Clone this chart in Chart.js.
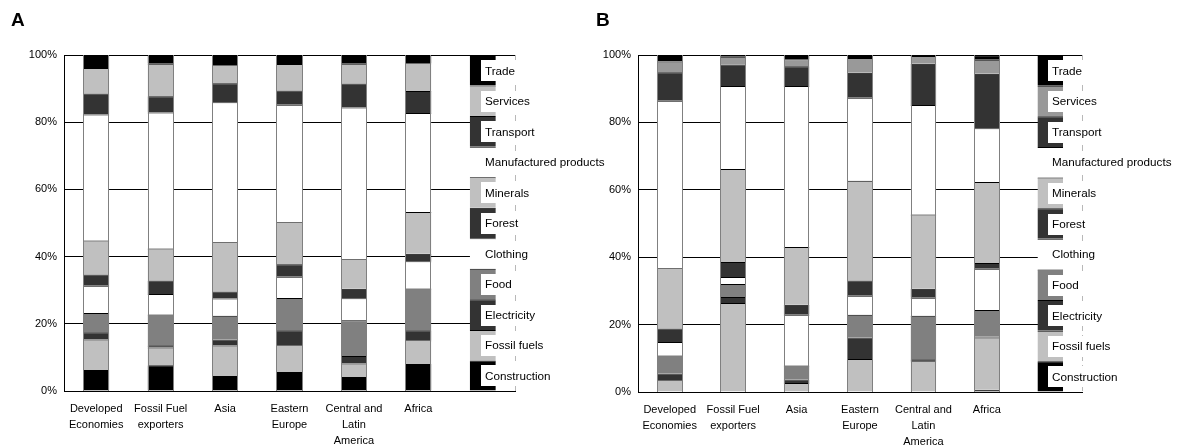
<!DOCTYPE html>
<html><head><meta charset="utf-8">
<script src="https://cdn.jsdelivr.net/npm/chart.js@4.4.0/dist/chart.umd.min.js"></script>
<style>
html,body{margin:0;padding:0;background:#fff;width:1183px;height:447px;overflow:hidden;}
#wrapA{position:absolute;left:0;top:0;width:625px;height:447px;}
#wrapB{position:absolute;left:590px;top:0;width:593px;height:447px;}
.panel{position:absolute;top:9px;font:bold 19px "Liberation Sans",Arial,sans-serif;color:#000;}
</style></head><body>
<div id="wrapA"><canvas id="cA" width="625" height="447"></canvas></div>
<div id="wrapB"><canvas id="cB" width="593" height="447"></canvas></div>
<div class="panel" style="left:11px">A</div>
<div class="panel" style="left:596px">B</div>
<script>
// ---- data ----
const categories = [['Developed','Economies'],['Fossil Fuel','exporters'],['Asia'],['Eastern','Europe'],['Central and','Latin','America'],['Africa'],''];
const sectors = ['Construction','Fossil fuels','Electricity','Food','Clothing','Forest','Minerals','Manufactured products','Transport','Services','Trade'];
const legendShare = [9.09,9.09,9.09,9.09,9.09,9.09,9.09,9.09,9.09,9.09,9.09];
const yTicks = [0,20,40,60,80,100];

// Panel A (regions: Developed, Fossil Fuel exporters, Asia, Eastern Europe, Central & Latin America, Africa)
const aConstruction  = [6.25, 7.7, 4.45, 5.65, 4.15, 8.05];
const aFossilFuels   = [9.1, 5.25, 9.1, 7.95, 4.0, 7.05];
const aElectricity   = [2.1, 0.7, 1.8, 4.45, 2.3, 3.0];
const aFood          = [5.75, 9.1, 7.05, 9.6, 10.6, 12.4];
const aClothing      = [8.1, 6.15, 5.15, 6.35, 6.55, 8.15];
const aForest        = [3.4, 4.0, 2.1, 3.7, 2.8, 2.2];
const aMinerals      = [10.1, 9.5, 14.6, 12.5, 8.8, 12.4];
const aManufactured  = [37.5, 40.5, 41.7, 35.0, 45.2, 29.5];
const aTransport     = [6.25, 4.8, 5.65, 4.25, 7.15, 6.55];
const aServices      = [7.6, 9.7, 5.35, 7.85, 5.85, 8.25];
const aTrade         = [3.85, 2.6, 3.05, 2.7, 2.6, 2.45];

// Panel B
const bConstruction  = [0.2, 0, 0.2, 0.2, 0.2, 0.7];
const bFossilFuels   = [3.3, 26.4, 2.5, 9.6, 8.9, 15.5];
const bElectricity   = [2.0, 1.8, 1.0, 6.35, 0.6, 0.3];
const bFood          = [5.35, 3.85, 4.15, 6.75, 12.9, 7.8];
const bClothing      = [4.0, 2.1, 15.05, 5.65, 5.35, 12.3];
const bForest        = [4.0, 4.45, 3.0, 4.55, 2.7, 1.7];
const bMinerals      = [17.9, 27.6, 17.1, 29.6, 22.0, 24.0];
const bManufactured  = [49.7, 24.6, 47.8, 24.65, 32.55, 16.0];
const bTransport     = [8.4, 6.4, 5.85, 7.4, 12.2, 16.1];
const bServices      = [3.2, 2.3, 2.1, 4.35, 2.3, 4.2];
const bTrade         = [1.95, 0.5, 1.25, 0.9, 0.3, 1.3];

const colorsA = ['#000000','#c0c0c0','#333333','#808080','#ffffff','#333333','#c0c0c0','#ffffff','#333333','#c0c0c0','#000000'];
const colorsB = ['#000000','#c0c0c0','#333333','#808080','#ffffff','#333333','#c0c0c0','#ffffff','#333333','#999999','#000000'];

const seriesA = [aConstruction,aFossilFuels,aElectricity,aFood,aClothing,aForest,aMinerals,aManufactured,aTransport,aServices,aTrade];
const seriesB = [bConstruction,bFossilFuels,bElectricity,bFood,bClothing,bForest,bMinerals,bManufactured,bTransport,bServices,bTrade];

Chart.defaults.font.family = '"Liberation Sans", Arial, sans-serif';
Chart.defaults.font.size = 11;
Chart.defaults.color = '#000';

const REGIONS = 6, LEGEND_IDX = 6;

const decor = {
  id:'decor',
  afterDatasetsDraw(chart){
    const ctx = chart.ctx, area = chart.chartArea, y = chart.scales.y;
    ctx.save();
    // grey outlines of region bars
    const meta0 = chart.getDatasetMeta(0);
    ctx.strokeStyle = '#808080'; ctx.lineWidth = 1;
    const yt = y.getPixelForValue(100), yb = y.getPixelForValue(0);
    for (let j=0;j<REGIONS;j++){
      const el = meta0.data[j];
      const l = Math.round(el.x - el.width/2) + 0.5;
      const r = Math.round(el.x + el.width/2) - 0.5;
      ctx.beginPath();
      ctx.moveTo(l, yt); ctx.lineTo(l, yb);
      ctx.moveTo(r, yt); ctx.lineTo(r, yb);
      ctx.stroke();
    }
    // dashed right edge
    ctx.setLineDash([6,4]); ctx.strokeStyle = '#b8b8b8';
    ctx.beginPath(); ctx.moveTo(Math.round(area.right)+0.5, area.top); ctx.lineTo(Math.round(area.right)+0.5, area.bottom); ctx.stroke();
    ctx.setLineDash([]);
    // legend labels in white boxes
    ctx.font = '11.7px "Liberation Sans", Arial, sans-serif';
    ctx.textBaseline = 'middle';
    chart.data.datasets.forEach((ds,i)=>{
      const el = chart.getDatasetMeta(i).data[LEGEND_IDX];
      const cy = (el.y + el.base)/2;
      const left = Math.round(el.x - el.width/2 + 11);
      const tw = ctx.measureText(ds.label).width;
      ctx.fillStyle = '#fff';
      ctx.fillRect(left, Math.round(cy-10), Math.max(tw+9, area.right + 4 - left), 21);
      ctx.fillStyle = '#000';
      ctx.fillText(ds.label, left+4, cy+1);
    });
    ctx.restore();
  }
};

function makeChart(id, series, colors, axisW, axisH, padRight){
  const datasets = sectors.map((s,i)=>({
    label: s,
    data: series[i].concat([legendShare[i]]),
    backgroundColor: colors[i],
    borderColor: '#000',
    borderWidth: {top:1,left:0,right:0,bottom:0},
    borderSkipped: false,
    barPercentage: 0.404,
    categoryPercentage: 1
  }));
  return new Chart(document.getElementById(id), {
    type:'bar',
    data:{labels:categories, datasets},
    options:{
      responsive:false, animation:false, devicePixelRatio:1,
      layout:{padding:{left:0,right:padRight,top:55,bottom:0}},
      plugins:{legend:{display:false}, tooltip:{enabled:false}},
      scales:{
        x:{stacked:true,
           grid:{display:false, drawTicks:false},
           border:{display:true, color:'#000', width:1},
           ticks:{color:'#000', font:{size:11, lineHeight:1.45}, padding:10, maxRotation:0, minRotation:0, autoSkip:false},
           afterFit(s){ s.height = axisH; }},
        y:{stacked:true, min:0, max:100,
           afterBuildTicks(s){ s.ticks = yTicks.map(v=>({value:v})); },
           ticks:{callback:v=>v+'%', color:'#000', padding:7, font:{size:11}},
           grid:{color:'#000', lineWidth:1, drawTicks:false},
           border:{display:true, color:'#000', width:1},
           afterFit(s){ s.width = axisW; }}
      }
    },
    plugins:[decor]
  });
}

makeChart('cA', seriesA, colorsA, 64, 56, 625-515);
makeChart('cB', seriesB, colorsB, 48, 55, 593-492);
</script>
</body></html>
